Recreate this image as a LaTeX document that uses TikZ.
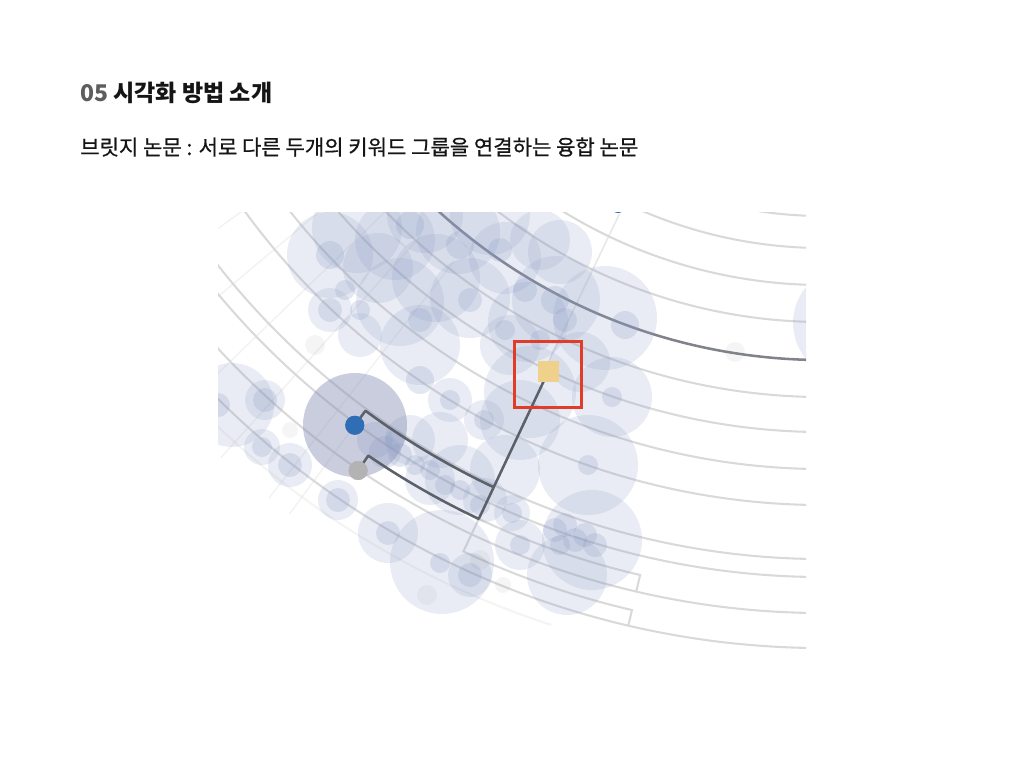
\documentclass[tikz,border=0pt]{standalone}
\usepackage{fontspec}
\usepackage{graphicx}
\newfontfamily\kr{Noto Sans CJK KR}
\newfontfamily\krm{Noto Sans CJK KR}[FakeBold=0.8]
\usetikzlibrary{calc}
\definecolor{arcg}{HTML}{D9D9D9}
\definecolor{darkarc}{HTML}{80838B}
\definecolor{hlc}{HTML}{5C6069}
\definecolor{cblue}{HTML}{8C9CC4}
\definecolor{bigc}{HTML}{8790B5}
\definecolor{dotblue}{HTML}{2F6DB4}
\definecolor{dotgray}{HTML}{B3B3B3}
\definecolor{sqy}{HTML}{EFD18C}
\definecolor{redb}{HTML}{E03C28}
\definecolor{numg}{HTML}{5E5E5E}
\definecolor{txt}{HTML}{151515}
\begin{document}
\begin{tikzpicture}[x=0.75pt,y=-0.75pt,
  garc/.style={draw=arcg,line width=1.55pt},
  darcs/.style={draw=darkarc,line width=1.9pt},
  hl/.style={draw=hlc,line width=1.9pt,line join=round},
  lc/.style={fill=cblue,fill opacity=.19},
  dc/.style={fill=cblue,fill opacity=.24},
  fc/.style={fill=gray,fill opacity=.08},
  faint/.style={draw=gray,line width=1.1pt,draw opacity=.10},
  dotb/.style={circle,fill=dotblue,inner sep=0,minimum size=14.25pt},
  dotg/.style={circle,fill=dotgray,inner sep=0,minimum size=14.25pt},
  sq/.style={rectangle,fill=sqy,inner sep=0,minimum size=15.75pt},
  rbox/.style={rectangle,draw=redb,line width=2.2pt,inner sep=0,minimum width=50.25pt,minimum height=49.5pt}]
\useasboundingbox (0,0) rectangle (1024,768);
\coordinate (O) at (823,-211);

\node[anchor=west,inner sep=0] (title) at (80,92.5)
  {\resizebox{144pt}{!}{\kr\bfseries\textcolor{numg}{05} \textcolor{txt}{시각화 방법 소개}}};
\node[anchor=west,inner sep=0] (subtitle) at (80,147)
  {\resizebox{418.5pt}{!}{\krm\textcolor{txt}{브릿지 논문 : 서로 다른 두개의 키워드 그룹을 연결하는 융합 논문}}};

\begin{scope}
\clip (218,212) rectangle (806,700);
% faint lattice
\foreach \a in {128,132,136,140,144}
  \draw[faint] ($(O)+(\a:600)$) -- ($(O)+(\a:900)$);
\draw[faint] ($(O)+(126.35:790)$) -- ($(O)+(126.35:900)$);
\draw[garc,draw opacity=.6,line width=1.2pt] ($(O)+(115.6:471)$) -- ($(O)+(115.6:640)$);
% concentric arcs
\foreach \r in {427,459,496,533,608,643,680,716,770,788,824,859}
  \draw[garc] ($(O)+(150:\r)$) arc[start angle=150,end angle=80,radius=\r];
\draw[garc] ($(O)+(115.25:807)$) arc[start angle=115.25,end angle=103.1,radius=807] -- ($(O)+(103.1:824)$);
\draw[garc] ($(O)+(115.25:807)$) -- ($(O)+(115.25:843)$) arc[start angle=115.25,end angle=103.1,radius=843] -- ($(O)+(103.1:859)$);
\draw[garc,draw opacity=.3] ($(O)+(140:879)$) arc[start angle=140,end angle=108,radius=879];
\draw[darcs] ($(O)+(150:571)$) arc[start angle=150,end angle=80,radius=571];
% top partial blue node
\fill[dotblue] (618,206) circle[radius=7];
% light circles
\foreach \x/\y/\r in {330/255/43, 357/228/45, 395/240/40, 425/215/38, 458/232/42, 490/215/40, 505/258/36, 540/240/30, 560/252/32, 605/318/52, 556/300/44, 528/322/40, 470/298/40, 436/278/44, 400/302/44, 378/268/35, 420/345/40, 510/345/30, 530/392/46, 580/362/30, 612/397/40, 588/465/50, 520/420/40, 505/470/35, 592/540/50, 567/575/40, 442/562/52, 520/545/25, 388/533/30, 338/500/20, 290/465/22, 262/447/18, 265/400/20, 232/405/42, 460/480/35, 430/480/25, 450/400/22, 484/420/20, 512/513/18, 470/575/22, 360/335/22, 330/310/22, 849/323/56, 440/440/28, 410/440/25, 485/500/22}
  \fill[lc] (\x,\y) circle[radius=\r];
\fill[fill=bigc,fill opacity=.45] (355,425) circle[radius=52];
\foreach \x/\y/\r in {330/310/12, 345/290/10, 450/400/10, 484/420/10, 612/397/10, 588/465/10, 512/513/10, 470/575/12, 388/533/12, 338/500/12, 290/465/12, 262/447/10, 265/400/12, 218/405/12, 555/530/12, 565/525/12, 575/540/12, 585/535/12, 595/545/12, 560/545/10, 375/440/18, 385/452/16, 400/455/12, 395/440/10, 430/470/10, 445/485/10, 460/490/10, 415/465/10, 480/505/10, 520/545/10, 440/563/10, 330/255/14, 410/225/14, 460/245/14, 500/250/12, 525/290/12, 555/300/14, 565/320/12, 625/325/14, 420/320/12, 360/310/10, 505/330/10, 420/380/14, 470/300/12, 540/340/10}
  \fill[dc] (\x,\y) circle[radius=\r];
\foreach \x/\y/\r in {735/352/10, 315/345/10, 427/595/10, 290/430/8, 480/560/10, 503/585/8}
  \fill[fc] (\x,\y) circle[radius=\r];
\end{scope}

% highlighted bridge paths and nodes
\node[sq] (ynode) at ($(O)+(115.25:644.6)$) {};
\node[dotb] (bnode) at ($(O)+(126.35:790)$) {};
\node[dotg] (gnode) at ($(O)+(124.3:825)$) {};
\coordinate (j1) at ($(O)+(115.25:772)$);
\coordinate (j2) at ($(O)+(115.25:807)$);
\draw[hl] (ynode.center) -- (j2) arc[start angle=115.25,end angle=124.3,radius=807] -- (gnode.center);
\draw[hl] (j1) arc[start angle=115.25,end angle=126.35,radius=772] -- (bnode.center);
\node[sq] at (ynode) {};
\node[dotb] at (bnode) {};
\node[dotg] at (gnode) {};
\node[rbox] (redbox) at (548,374.5) {};
\end{tikzpicture}
\end{document}
